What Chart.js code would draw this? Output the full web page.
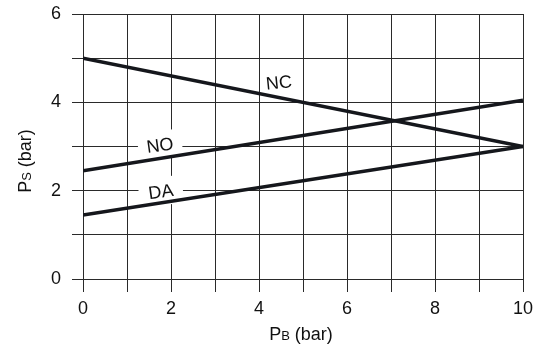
<!DOCTYPE html>
<html>
<head>
<meta charset="utf-8">
<script src="https://cdn.jsdelivr.net/npm/chart.js@4/dist/chart.umd.min.js"></script>
<style>
  html, body { margin: 0; padding: 0; background: #fff; }
  #wrap { width: 547px; height: 346px; }
</style>
</head>
<body>
<div id="wrap"><canvas id="grafico"></canvas></div>
<script>
// Datos
const pb = [0, 10];
const curvaNC = [5.0, 3.0];
const curvaNO = [2.45, 4.05];
const curvaDA = [1.45, 3.0];

const xTicks = [0, 2, 4, 6, 8, 10];
const yTicks = [0, 2, 4, 6];

// Etiquetas sobre las rectas: texto, posición (x, y) en unidades, rotación
const etiquetas = [
    { texto: 'NC', x: 4.45, y: 4.45, rot: -0.10, caja: false },
    { texto: 'NO', x: 1.75, y: 3.03, rot: -0.14, caja: true },
    { texto: 'DA', x: 1.77, y: 1.98, rot: -0.14, caja: true }
];

const FONT = "'Liberation Sans', Arial, sans-serif";

const puntos = (ys) => pb.map((x, i) => ({ x: x, y: ys[i] }));

const linea = (label, ys) => ({
    label: label,
    data: puntos(ys),
    borderColor: '#15171c',
    borderWidth: 3.5,
    pointRadius: 0,
    fill: false,
    tension: 0
});

// Plugin para las etiquetas de las rectas (con fondo blanco que tapa la rejilla)
const pluginEtiquetas = {
    id: 'etiquetas',
    beforeDatasetsDraw(chart) {
        const { ctx, scales } = chart;
        ctx.save();
        ctx.font = '18px ' + FONT;
        ctx.textAlign = 'center';
        ctx.textBaseline = 'middle';
        etiquetas.forEach(e => {
            const px = scales.x.getPixelForValue(e.x);
            const py = scales.y.getPixelForValue(e.y);
            ctx.save();
            ctx.translate(px, py);
            ctx.rotate(e.rot);
            if (e.caja) {
                ctx.fillStyle = '#fff';
                ctx.fillRect(-22, -14, 44, 28);
            }
            ctx.fillStyle = '#111';
            ctx.fillText(e.texto, 0, 1);
            ctx.restore();
        });
        ctx.restore();
    }
};

// Títulos de los ejes con subíndice en versalitas (P + letra pequeña)
function tituloEje(ctx, grande, chica, resto) {
    ctx.font = '18px ' + FONT;
    const w1 = ctx.measureText(grande).width;
    const w3 = ctx.measureText(resto).width;
    ctx.font = '13px ' + FONT;
    const w2 = ctx.measureText(chica).width;
    const total = w1 + w2 + w3;
    let x = -total / 2;
    ctx.textBaseline = 'alphabetic';
    ctx.textAlign = 'left';
    ctx.font = '18px ' + FONT;
    ctx.fillText(grande, x, 6);
    x += w1;
    ctx.font = '13px ' + FONT;
    ctx.fillText(chica, x, 6);
    x += w2;
    ctx.font = '18px ' + FONT;
    ctx.fillText(resto, x, 6);
}

const pluginTitulos = {
    id: 'titulos',
    afterDraw(chart) {
        const { ctx } = chart;
        ctx.save();
        ctx.fillStyle = '#111';
        ctx.translate(301, 334);
        tituloEje(ctx, 'P', 'B', ' (bar)');
        ctx.restore();

        ctx.save();
        ctx.fillStyle = '#111';
        ctx.translate(25, 161);
        ctx.rotate(-Math.PI / 2);
        tituloEje(ctx, 'P', 'S', ' (bar)');
        ctx.restore();
    }
};

const ctx = document.getElementById('grafico').getContext('2d');
new Chart(ctx, {
    type: 'line',
    data: {
        datasets: [
            linea('NC', curvaNC),
            linea('NO', curvaNO),
            linea('DA', curvaDA)
        ]
    },
    options: {
        responsive: true,
        maintainAspectRatio: false,
        animation: false,
        layout: { padding: { top: 14, right: 24, left: 0, bottom: 0 } },
        scales: {
            x: {
                type: 'linear',
                min: 0,
                max: 10,
                afterFit: (s) => { s.height = 67; s.paddingLeft = 0; s.paddingRight = 0; },
                border: { display: false },
                grid: { color: '#2a2a2a', lineWidth: 1, tickLength: 13 },
                ticks: {
                    stepSize: 1,
                    padding: 6,
                    color: '#111',
                    font: { family: FONT, size: 18 },
                    callback: (v) => xTicks.includes(v) ? v : ''
                }
            },
            y: {
                min: 0,
                max: 6,
                afterFit: (s) => { s.width = 83; s.paddingTop = 0; s.paddingBottom = 0; },
                border: { display: false },
                grid: { color: '#2a2a2a', lineWidth: 1, tickLength: 11 },
                ticks: {
                    stepSize: 1,
                    padding: 11,
                    color: '#111',
                    font: { family: FONT, size: 18 },
                    callback: (v) => yTicks.includes(v) ? v : ''
                }
            }
        },
        plugins: {
            legend: { display: false },
            tooltip: { enabled: false }
        }
    },
    plugins: [pluginEtiquetas, pluginTitulos]
});
</script>
</body>
</html>
